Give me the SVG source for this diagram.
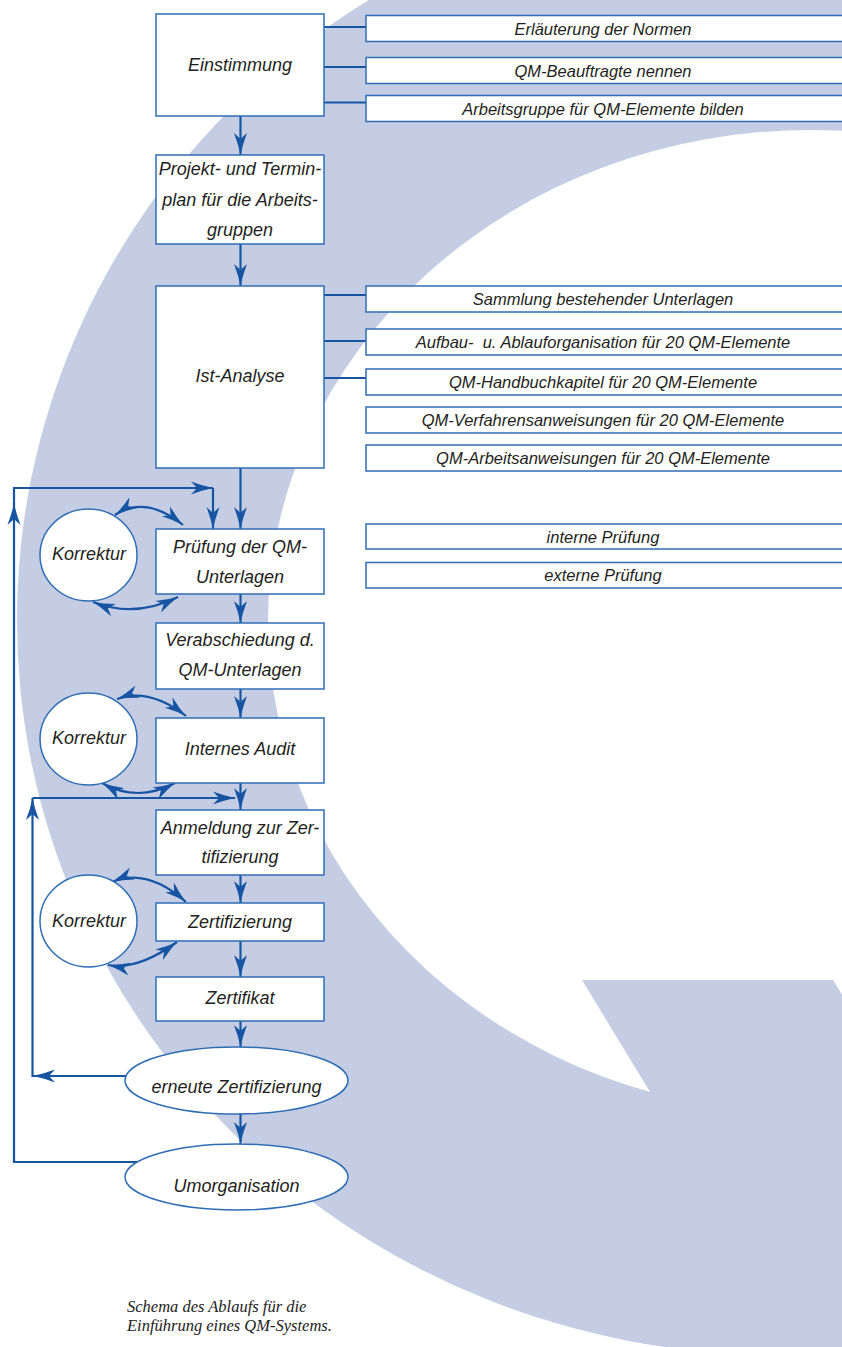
<svg xmlns="http://www.w3.org/2000/svg" width="842" height="1347" viewBox="0 0 842 1347">
<style>
.bx{fill:#fff;stroke:#2f6db5;stroke-width:1.5}
.t{font-family:"Liberation Sans",Arial,sans-serif;font-style:italic;font-size:18px;fill:#231f20;text-anchor:middle}
.ts{font-family:"Liberation Sans",Arial,sans-serif;font-style:italic;font-size:16.5px;fill:#231f20;text-anchor:middle}
.ln{fill:none;stroke:#1755a3;stroke-width:2.2}
.ar{marker-end:url(#ah)}
.da{marker-start:url(#ah);marker-end:url(#ah)}
.cap{font-family:"Liberation Serif","Times New Roman",serif;font-style:italic;font-size:16.5px;fill:#222}
</style>
<defs>
<marker id="ah" markerUnits="userSpaceOnUse" markerWidth="22" markerHeight="14" viewBox="0 0 22 14" refX="22" refY="7" orient="auto-start-reverse">
<path d="M22,7 Q12,5 0,0.5 L6,7 L0,13.5 Q12,9 22,7 Z" fill="#1755a3"/>
</marker>
</defs>
<g id="background">
<rect width="842" height="1347" fill="#fff"/>
<ellipse cx="777" cy="620" rx="760" ry="735" fill="#c4cde4"/>
<ellipse cx="810" cy="622" rx="542" ry="492" fill="#fff"/>
<polygon points="582,980 833,980 1088,1400 837,1400" fill="#c4cde4"/>
</g>
<g id="connectors">
<line class="ln ar" x1="240.5" y1="116" x2="240.5" y2="155"/>
<line class="ln ar" x1="240.5" y1="244" x2="240.5" y2="286"/>
<line class="ln ar" x1="240.5" y1="468" x2="240.5" y2="529"/>
<line class="ln ar" x1="240.5" y1="594" x2="240.5" y2="623"/>
<line class="ln ar" x1="240.5" y1="689" x2="240.5" y2="718"/>
<line class="ln ar" x1="240.5" y1="783" x2="240.5" y2="810"/>
<line class="ln ar" x1="240.5" y1="875" x2="240.5" y2="903"/>
<line class="ln ar" x1="240.5" y1="941" x2="240.5" y2="977"/>
<line class="ln ar" x1="240.5" y1="1021" x2="240.5" y2="1047"/>
<line class="ln ar" x1="240.5" y1="1114" x2="240.5" y2="1144"/>
<line class="ln" x1="324" y1="27" x2="366" y2="27"/>
<line class="ln" x1="324" y1="67" x2="366" y2="67"/>
<line class="ln" x1="324" y1="102.5" x2="366" y2="102.5"/>
<line class="ln" x1="324" y1="295" x2="366" y2="295"/>
<line class="ln" x1="324" y1="341" x2="366" y2="341"/>
<line class="ln" x1="324" y1="378" x2="366" y2="378"/>
<polyline class="ln" points="137,1162 14,1162 14,1160"/>
<line class="ln ar" x1="14" y1="1162" x2="14" y2="503"/>
<line class="ln" x1="14" y1="504" x2="14" y2="487"/>
<line class="ln ar" x1="13" y1="488" x2="213" y2="488"/>
<line class="ln ar" x1="213" y1="488" x2="213" y2="529"/>
<line class="ln ar" x1="126" y1="1076" x2="33" y2="1076"/>
<line class="ln ar" x1="32.5" y1="1077" x2="32.5" y2="798"/>
<line class="ln ar" x1="32.5" y1="798" x2="235" y2="798"/>
<path class="ln da" d="M115,515 Q145,494.5 183,525"/>
<path class="ln da" d="M93,602 Q134.5,618.5 178,597"/>
<path class="ln da" d="M117,699 Q149,687.5 186,716"/>
<path class="ln da" d="M102,783 Q137.5,803 175,783"/>
<path class="ln da" d="M112,882 Q147,867.5 186,902"/>
<path class="ln da" d="M108,965 Q137.5,970.5 177,942"/>
</g>
<g id="n-einstimmung"><rect class="bx" x="156" y="14" width="168" height="102"/><text class="t" x="240" y="71">Einstimmung</text></g>
<g id="n-erlaeuterung"><rect class="bx" x="366" y="15.5" width="490" height="26"/><text class="ts" x="603" y="34.5">Erläuterung der Normen</text></g>
<g id="n-qmbeauftragte"><rect class="bx" x="366" y="57.5" width="490" height="26"/><text class="ts" x="603" y="76.5">QM-Beauftragte nennen</text></g>
<g id="n-arbeitsgruppe"><rect class="bx" x="366" y="95.5" width="490" height="26"/><text class="ts" x="603" y="114.5">Arbeitsgruppe für QM-Elemente bilden</text></g>
<g id="n-projekt"><rect class="bx" x="156" y="155" width="168" height="89"/><text class="t" x="240" y="175">Projekt- und Termin-</text><text class="t" x="240" y="206">plan für die Arbeits-</text><text class="t" x="240" y="236">gruppen</text></g>
<g id="n-ist"><rect class="bx" x="156" y="286" width="168" height="182"/><text class="t" x="240" y="382">Ist-Analyse</text></g>
<g id="n-sammlung"><rect class="bx" x="366" y="286" width="490" height="26"/><text class="ts" x="603" y="305">Sammlung bestehender Unterlagen</text></g>
<g id="n-aufbau"><rect class="bx" x="366" y="329" width="490" height="26"/><text class="ts" x="603" y="348">Aufbau-&#160; u. Ablauforganisation für 20 QM-Elemente</text></g>
<g id="n-handbuch"><rect class="bx" x="366" y="369" width="490" height="26"/><text class="ts" x="603" y="388">QM-Handbuchkapitel für 20 QM-Elemente</text></g>
<g id="n-verfahren"><rect class="bx" x="366" y="407" width="490" height="26"/><text class="ts" x="603" y="426">QM-Verfahrensanweisungen für 20 QM-Elemente</text></g>
<g id="n-arbeitsanw"><rect class="bx" x="366" y="445" width="490" height="26"/><text class="ts" x="603" y="464">QM-Arbeitsanweisungen für 20 QM-Elemente</text></g>
<g id="n-pruefung"><rect class="bx" x="156" y="529" width="168" height="65"/><text class="t" x="240" y="553">Prüfung der QM-</text><text class="t" x="240" y="583">Unterlagen</text></g>
<g id="n-intern"><rect class="bx" x="366" y="524" width="490" height="25"/><text class="ts" x="603" y="542.5">interne Prüfung</text></g>
<g id="n-extern"><rect class="bx" x="366" y="562.5" width="490" height="25.5"/><text class="ts" x="603" y="581">externe Prüfung</text></g>
<g id="n-korrektur1"><ellipse class="bx" cx="88.5" cy="555" rx="48.5" ry="46"/><text class="t" x="89" y="560">Korrektur</text></g>
<g id="n-verabschiedung"><rect class="bx" x="156" y="623" width="168" height="66"/><text class="t" x="240" y="646">Verabschiedung d.</text><text class="t" x="240" y="676">QM-Unterlagen</text></g>
<g id="n-korrektur2"><ellipse class="bx" cx="88.5" cy="739" rx="48.5" ry="46"/><text class="t" x="89" y="744">Korrektur</text></g>
<g id="n-audit"><rect class="bx" x="156" y="718" width="168" height="65"/><text class="t" x="240" y="755">Internes Audit</text></g>
<g id="n-anmeldung"><rect class="bx" x="156" y="810" width="168" height="65"/><text class="t" x="240" y="834">Anmeldung zur Zer-</text><text class="t" x="240" y="863">tifizierung</text></g>
<g id="n-korrektur3"><ellipse class="bx" cx="88.5" cy="921" rx="48.5" ry="46"/><text class="t" x="89" y="927">Korrektur</text></g>
<g id="n-zertifizierung"><rect class="bx" x="156" y="903" width="168" height="38"/><text class="t" x="240" y="928">Zertifizierung</text></g>
<g id="n-zertifikat"><rect class="bx" x="156" y="977" width="168" height="44"/><text class="t" x="240" y="1004">Zertifikat</text></g>
<g id="n-erneute"><ellipse class="bx" cx="236.5" cy="1080.5" rx="111.5" ry="33.5"/><text class="t" x="236.5" y="1093">erneute Zertifizierung</text></g>
<g id="n-umorganisation"><ellipse class="bx" cx="236.5" cy="1177" rx="111.5" ry="33"/><text class="t" x="236.5" y="1192">Umorganisation</text></g>
<g id="caption"><text class="cap" x="127" y="1312">Schema des Ablaufs für die</text><text class="cap" x="127" y="1331">Einführung eines QM-Systems.</text></g>
</svg>
